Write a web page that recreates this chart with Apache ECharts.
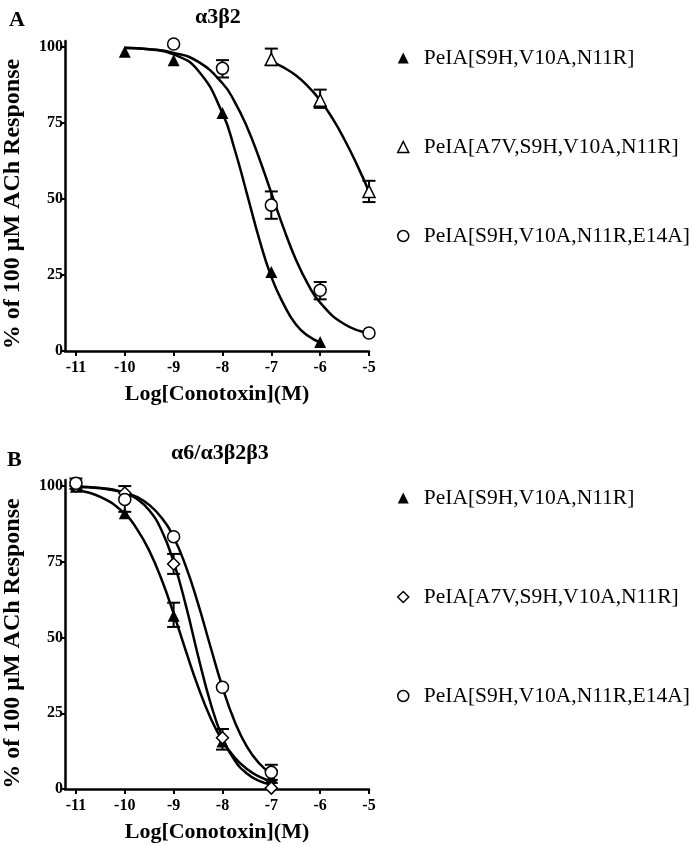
<!DOCTYPE html>
<html>
<head>
<meta charset="utf-8">
<script src="https://cdn.jsdelivr.net/npm/echarts@6/dist/echarts.min.js"></script>
<style>
html,body{margin:0;padding:0;background:#fff;}
#chart{width:693px;height:846px;}
</style>
</head>
<body>
<div id="chart"></div>
<script>
// legend names
var nameTri = 'PeIA[S9H,V10A,N11R]';
var nameA7V = 'PeIA[A7V,S9H,V10A,N11R]';
var nameE14A = 'PeIA[S9H,V10A,N11R,E14A]';

var xTicks = [-11, -10, -9, -8, -7, -6, -5];
var yTicks = [0, 25, 50, 75, 100];

// ---- panel A (a3b2) : measured points [logC, %]
var aTri = [[-10, 98.5], [-9, 95.7], [-8, 78.3], [-7, 26], [-6, 3]];
var aOpenTri = [[-7, 96], [-6, 82.5], [-5, 52.5]];
var aCirc = [[-9, 101], [-8, 93], [-7, 48], [-6, 20], [-5, 5.9]];
// error bars [logC, low, high]
var aOpenTriErr = [[-7, 94, 99.5], [-6, 80, 86], [-5, 49, 56]];
var aCircErr = [[-8, 90, 95.7], [-7, 43.5, 52.5], [-6, 17, 22.7]];
// fitted curves
var aTriFit = [[-10, 99.8], [-9.5, 99.3], [-9, 97.6], [-8.5, 92.3], [-8, 78.2], [-7.75, 66.3], [-7.5, 51.8],
  [-7.25, 37], [-7, 24.4], [-6.75, 15.5], [-6.5, 8.8], [-6.25, 5], [-6, 2.8]];
var aOpenTriFit = [[-7, 95.2], [-6.75, 93.3], [-6.5, 90.7], [-6.25, 87.1], [-6, 82.5], [-5.75, 76.6],
  [-5.5, 69.5], [-5.25, 61.4], [-5, 52.5]];
var aCircFit = [[-10, 99.7], [-9.5, 99.3], [-9, 98.1], [-8.5, 95.2], [-8, 88.1], [-7.75, 82], [-7.5, 73.8],
  [-7.25, 63.5], [-7, 52], [-6.75, 40.5], [-6.5, 30.2], [-6.25, 22], [-6, 15.9], [-5.5, 8.8], [-5, 5.9]];

// ---- panel B (a6/a3b2b3)
var bTri = [[-11, 99.8], [-10, 91], [-9, 57.2], [-8, 15.7], [-7, 4]];
var bDia = [[-11, 100], [-10, 97.7], [-9, 74.3], [-8, 16.9], [-7, 0.3]];
var bCirc = [[-11, 100.9], [-10, 95.6], [-9, 83.3], [-8, 33.6], [-7, 5.5]];
var bTriErr = [[-9, 53.5, 61.5], [-8, 13, 19.8], [-7, 2, 6]];
var bDiaErr = [[-9, 71, 77.6]];
var bCircErr = [[-11, 99, 102.5], [-10, 91.5, 100], [-7, 3, 8]];
var bTriFit = [[-11, 98.6], [-10.5, 96.4], [-10, 90.9], [-9.75, 85.8], [-9.5, 78.7], [-9.25, 69.3], [-9, 57.9],
  [-8.75, 45.6], [-8.5, 33.8], [-8.25, 23.7], [-8, 15.9], [-7.75, 10.4], [-7.5, 6.6], [-7.25, 4.1], [-7, 2.6]];
var bDiaFit = [[-11, 99.8], [-10.5, 99.4], [-10, 97.8], [-9.75, 95.7], [-9.5, 92], [-9.25, 85.5], [-9, 75],
  [-8.75, 60.6], [-8.5, 44], [-8.25, 28.7], [-8, 17], [-7.75, 9.5], [-7.5, 5.1], [-7.25, 2.7], [-7, 1.4]];
var bCircFit = [[-11, 99.8], [-10.5, 99.3], [-10, 97.9], [-9.75, 96.4], [-9.5, 93.8], [-9.25, 89.6], [-9, 83.1],
  [-8.75, 73.5], [-8.5, 61.2], [-8.25, 47.2], [-8, 33.6], [-7.75, 22.3], [-7.5, 14], [-7.25, 8.5], [-7, 5]];

var FONT = 'Liberation Serif';
var openStyle = {color: '#fff', borderColor: '#000', borderWidth: 1.5, opacity: 1};
var fillStyle = {color: '#000', borderColor: '#000', borderWidth: 0, opacity: 1};

function renderErr(params, api) {
    var x = api.value(0);
    var lo = api.coord([x, api.value(1)]);
    var hi = api.coord([x, api.value(2)]);
    var w = 6.5;
    var st = {stroke: '#000', lineWidth: 2};
    return {
        type: 'group',
        children: [
            {type: 'line', shape: {x1: lo[0], y1: lo[1], x2: hi[0], y2: hi[1]}, style: st},
            {type: 'line', shape: {x1: lo[0] - w, y1: lo[1], x2: lo[0] + w, y2: lo[1]}, style: st},
            {type: 'line', shape: {x1: hi[0] - w, y1: hi[1], x2: hi[0] + w, y2: hi[1]}, style: st}
        ]
    };
}

function xAxisCfg(idx) {
    return {
        gridIndex: idx, type: 'value', min: -11.224, max: -5,
        name: 'Log[Conotoxin](M)', nameLocation: 'middle', nameGap: 32,
        nameTextStyle: {fontFamily: FONT, fontWeight: 'bold', fontSize: 22, color: '#000'},
        axisLine: {onZero: false, lineStyle: {color: '#000', width: 2.5}},
        axisTick: {show: true, length: 5, lineStyle: {color: '#000', width: 2}, customValues: xTicks},
        axisLabel: {fontFamily: FONT, fontWeight: 'bold', fontSize: 16, color: '#000', margin: 9, customValues: xTicks},
        splitLine: {show: false}
    };
}
function yAxisCfg(idx, shift) {
    return {
        gridIndex: idx, type: 'value', min: 0, max: 102,
        name: '% of 100 \u03bcM ACh Response', nameLocation: 'middle', nameGap: 40,
        nameTextStyle: {fontFamily: FONT, fontWeight: 'bold', fontSize: 24, color: '#000', padding: [0, shift, 0, 0]},
        axisLine: {show: true, onZero: false, lineStyle: {color: '#000', width: 2.5}},
        axisTick: {show: true, length: 4, lineStyle: {color: '#000', width: 2}, customValues: yTicks},
        axisLabel: {fontFamily: FONT, fontWeight: 'bold', fontSize: 16, color: '#000', margin: 2, customValues: yTicks},
        splitLine: {show: false}
    };
}

function fit(idx, data) {
    return {type: 'line', xAxisIndex: idx, yAxisIndex: idx, data: data, smooth: true, showSymbol: false,
        symbol: 'none', silent: true, z: 2, lineStyle: {color: '#000', width: 2.5}};
}
function pts(idx, name, data, symbol, size, style) {
    return {type: 'scatter', name: name, xAxisIndex: idx, yAxisIndex: idx, data: data, symbol: symbol,
        symbolSize: size, itemStyle: style, clip: false, z: 4};
}
function errs(idx, data) {
    return {type: 'custom', xAxisIndex: idx, yAxisIndex: idx, data: data, renderItem: renderErr, clip: false, z: 3, silent: true};
}

var legendText = {fontFamily: FONT, fontSize: 21.5, color: '#000', padding: [0, 0, 0, 10], lineHeight: 18};
var titleStyle = {fontFamily: FONT, fontWeight: 'bold', fontSize: 22, color: '#000'};

var myChart = echarts.init(document.getElementById('chart'));
var option = {
    backgroundColor: '#fff',
    animation: false,
    title: [
        {text: 'A', left: 4, top: 4, textStyle: titleStyle},
        {text: '\u03b13\u03b22', left: 190, top: 1, textStyle: titleStyle},
        {text: 'B', left: 2, top: 444, textStyle: titleStyle},
        {text: '\u03b16/\u03b13\u03b22\u03b23', left: 166, top: 437, textStyle: titleStyle}
    ],
    grid: [
        {left: 64, top: 41, width: 305, height: 310},
        {left: 64, top: 480, width: 305, height: 309}
    ],
    xAxis: [xAxisCfg(0), xAxisCfg(1)],
    yAxis: [yAxisCfg(0, 16), yAxisCfg(1, 18)],
    legend: [
        {orient: 'vertical', left: 392, top: 42, itemWidth: 11, itemHeight: 11, itemGap: 67,
            selectedMode: false, textStyle: legendText,
            data: [
                {name: nameTri, icon: 'triangle', itemStyle: fillStyle},
                {name: nameA7V, icon: 'triangle', itemStyle: openStyle},
                {name: nameE14A, icon: 'circle', itemStyle: openStyle}
            ]},
        {orient: 'vertical', left: 392, top: 482, itemWidth: 11, itemHeight: 11, itemGap: 77,
            selectedMode: false, textStyle: legendText,
            data: [
                {name: nameTri, icon: 'triangle', itemStyle: fillStyle},
                {name: nameA7V, icon: 'diamond', itemStyle: openStyle},
                {name: nameE14A, icon: 'circle', itemStyle: openStyle}
            ]}
    ],
    series: [
        fit(0, aTriFit), fit(0, aOpenTriFit), fit(0, aCircFit),
        errs(0, aOpenTriErr), errs(0, aCircErr),
        pts(0, nameTri, aTri, 'triangle', 12, fillStyle),
        pts(0, nameA7V, aOpenTri, 'triangle', 12, openStyle),
        pts(0, nameE14A, aCirc, 'circle', 12, openStyle),

        fit(1, bTriFit), fit(1, bDiaFit), fit(1, bCircFit),
        errs(1, bTriErr), errs(1, bDiaErr), errs(1, bCircErr),
        pts(1, nameTri, bTri, 'triangle', 12, fillStyle),
        pts(1, nameA7V, bDia, 'diamond', 12, openStyle),
        pts(1, nameE14A, bCirc, 'circle', 12, openStyle)
    ]
};
myChart.setOption(option);
</script>
</body>
</html>
